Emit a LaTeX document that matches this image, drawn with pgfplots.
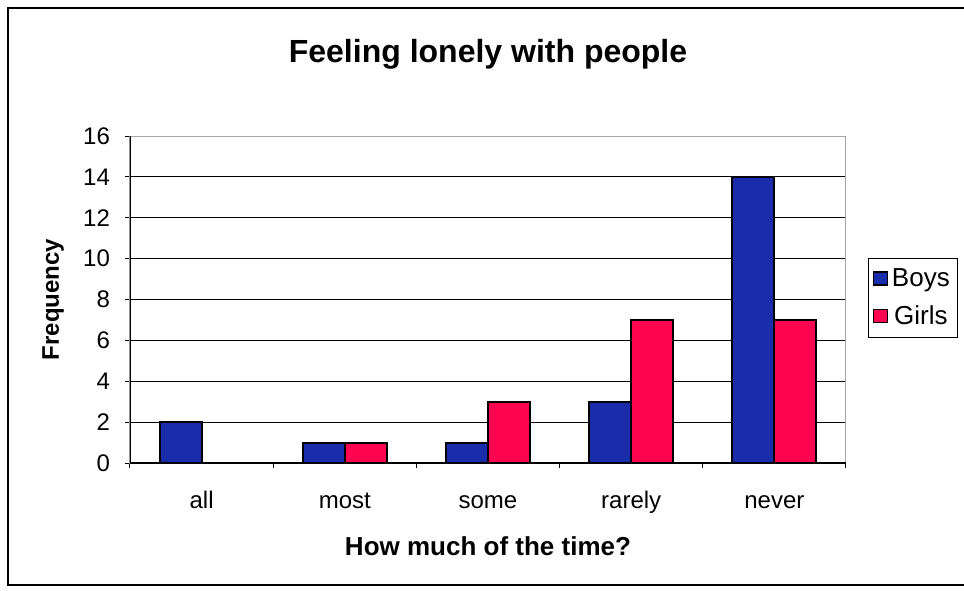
\documentclass[border=0pt]{standalone}
\usepackage{pgfplots}
\pgfplotsset{compat=1.18}
\usepackage{fontspec}
\setmainfont{Liberation Sans}
\definecolor{boys}{RGB}{25,45,170}
\definecolor{girls}{RGB}{255,5,80}
\begin{document}
\begin{tikzpicture}
\useasboundingbox (-65pt,-63.5pt) rectangle (417pt,231.5pt);
\draw[line width=0.8pt] (-61pt,-61pt) rectangle (430pt,227.5pt);
\begin{axis}[
  scale only axis,
  width=358pt, height=163.5pt,
  xmin=-0.5, xmax=4.5,
  ymin=0, ymax=16,
  ytick={0,2,...,16},
  xtick={-0.5,0.5,...,4.5},
  xticklabels={all,most,some,rarely,never},
  x tick label as interval,
  xtick pos=bottom, ytick pos=left,
  tick align=outside,
  major tick length=2.5pt,
  tick style={black, line width=0.5pt},
  ymajorgrids,
  grid style={black, line width=0.5pt},
  axis line style={gray!70, line width=0.5pt},
  tick label style={font=\fontsize{12}{14}\selectfont},
  /pgf/number format/assume math mode=true,
  xticklabel style={anchor=base, yshift=-20pt},
  yticklabel style={anchor=east, xshift=-4pt},
  ybar=0pt, bar width=21pt,
  title={\textbf{Feeling lonely with people}},
  title style={font=\fontsize{16}{18}\selectfont, at={(axis description cs:0.5,1)}, anchor=base, yshift=31pt},
  xlabel={\textbf{How much of the time?}},
  ylabel={\textbf{Frequency}},
  xlabel style={font=\fontsize{13}{15}\selectfont, at={(axis description cs:0.5,0)}, anchor=base, yshift=-46pt},
  ylabel style={font=\fontsize{12}{14}\selectfont, at={(axis description cs:0,0.5)}, anchor=center, yshift=38.5pt},
  legend style={at={(rel axis cs:1.031,0.627)}, anchor=north west,
    draw=black, line width=0.6pt, font=\fontsize{13}{15}\selectfont,
    row sep=4pt, inner xsep=2pt, inner ysep=3pt},
  legend image code/.code={\draw[#1, line width=0.6pt] (0pt,-3pt) rectangle (7pt,3.5pt);},
]
\addplot[fill=boys, draw=black, line width=1pt] coordinates {(0,2) (1,1) (2,1) (3,3) (4,14)};
\addplot[fill=girls, draw=black, line width=1pt] coordinates {(0,0) (1,1) (2,3) (3,7) (4,7)};
\legend{Boys, Girls}
\draw[black, line width=0.6pt] (rel axis cs:0,1) -- (rel axis cs:0,0) -- (rel axis cs:1,0);
\end{axis}
\end{tikzpicture}
\end{document}
